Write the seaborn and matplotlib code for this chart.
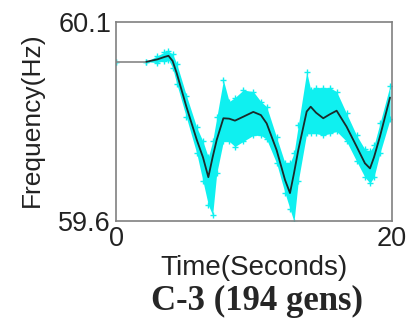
import pandas as pd
import seaborn as sns
import matplotlib
matplotlib.use('Agg')
import matplotlib.pyplot as plt

# values
time = [0, 2.2, 3.0, 3.5, 3.8, 4.1, 4.4, 5.1, 5.85, 6.3, 6.69, 7.0, 7.3, 7.78, 8.2,
        8.62, 9.23, 9.95, 10.5, 10.92, 11.64, 12.25, 12.61, 12.9, 13.21, 13.82, 14.11,
        14.5, 15.02, 15.5, 15.99, 16.71, 17.44, 18.04, 18.41, 18.7, 19.13, 19.86]
freq_mean = [60.0, 60.0, 60.006, 60.012, 60.015, 60.002, 59.971, 59.887, 59.804, 59.76,
             59.71, 59.76, 59.804, 59.858, 59.857, 59.852, 59.862, 59.874, 59.866, 59.845,
             59.778, 59.703, 59.67, 59.72, 59.778, 59.875, 59.887, 59.872, 59.858, 59.868,
             59.877, 59.837, 59.787, 59.745, 59.732, 59.76, 59.812, 59.91]
band_upper = [60.0, 60.0, 60.015, 60.024, 60.026, 60.02, 59.995, 59.915, 59.835, 59.80,
              59.76, 59.80, 59.86, 59.954, 59.90, 59.91, 59.929, 59.925, 59.90, 59.887,
              59.81, 59.745, 59.745, 59.77, 59.84, 59.975, 59.93, 59.935, 59.935, 59.935,
              59.925, 59.87, 59.815, 59.78, 59.775, 59.79, 59.845, 59.94]
band_lower = [60.0, 60.0, 59.998, 60.003, 60.005, 59.985, 59.945, 59.86, 59.77, 59.70,
              59.64, 59.615, 59.72, 59.80, 59.80, 59.787, 59.80, 59.815, 59.815, 59.805,
              59.745, 59.67, 59.63, 59.598, 59.70, 59.82, 59.82, 59.82, 59.815, 59.82,
              59.825, 59.80, 59.75, 59.71, 59.695, 59.71, 59.77, 59.855]
flat_end = 2.2

df = pd.DataFrame({'Time': time, 'Freq': freq_mean, 'Upper': band_upper, 'Lower': band_lower})

sns.set_style('white')
plt.rcParams['font.family'] = ['Liberation Sans', 'DejaVu Sans']

fig = plt.figure(figsize=(4.13, 3.23), dpi=100)
ax = fig.add_axes([0.281, 0.316, 0.668, 0.616])

# cyan envelope of all generators
ax.fill_between(df['Time'], df['Lower'], df['Upper'], color='#0ff0f0', lw=0)
ax.plot(df['Time'], df['Upper'], '+', color='#0ff0f0', ms=4, mew=1)
ax.plot(df['Time'], df['Lower'], '+', color='#0ff0f0', ms=4, mew=1)

# mean frequency
flat = df[df['Time'] <= flat_end]
sns.lineplot(data=flat, x='Time', y='Freq', ax=ax, color='#909090', lw=1.3)
sns.lineplot(data=df[df['Time'] >= flat_end], x='Time', y='Freq', ax=ax, color='#1a2a2a', lw=1.3)

ax.set_xlim(0, 20)
ax.set_ylim(59.6, 60.1)
ax.set_xticks([0, 20])
ax.set_yticks([59.6, 60.1])
ax.set_yticklabels(['59.6', '60.1'])
ax.tick_params(direction='in', length=3, color='#808080', labelsize=19.5, colors='#222222')
ax.tick_params(axis='y', pad=3.5)
ax.tick_params(axis='x', pad=3.5)
for s in ax.spines.values():
    s.set_color('#808080')
    s.set_linewidth(1.2)

ax.set_xlabel('Time(Seconds)', fontsize=20, color='#222222')
ax.set_ylabel('Frequency(Hz)', fontsize=19, color='#222222')
ax.xaxis.set_label_coords(0.5, -0.235)
ax.xaxis.label.set_va('center')
ax.yaxis.set_label_coords(-0.304, 0.508)
ax.yaxis.label.set_va('center')
fig.text(0.623, 0.068, 'C-3 (194 gens)', ha='center', va='center', fontsize=25,
         fontweight='bold', family='Liberation Serif')

fig.savefig('out.png', dpi=100)
